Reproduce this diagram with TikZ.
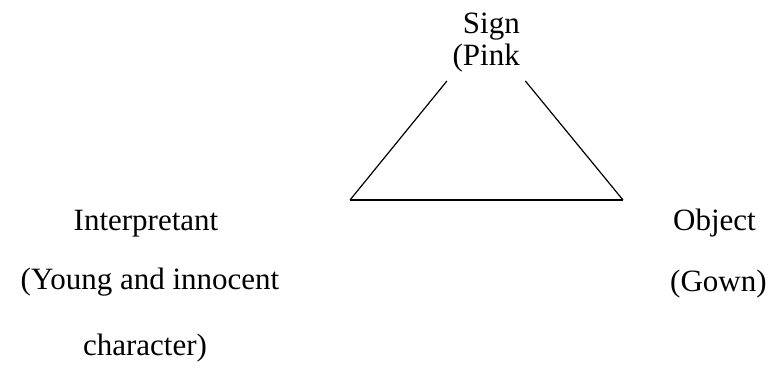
\documentclass[tikz,border=0pt]{standalone}
\usepackage{fontspec}
\setmainfont{Liberation Serif}
\usetikzlibrary{positioning}

\begin{document}
\begin{tikzpicture}[x=1pt, y=1pt, font=\fontsize{31}{32}\selectfont,
		lbl/.style={inner sep=0pt}, side/.style={line width=1.2pt, shorten <=62pt}]
			\useasboundingbox (0,0) rectangle (768,368);
			% triangle corners
			\coordinate (apex) at (486,335);
			\coordinate (left) at (350,168);
			\coordinate (right) at (623,168);
			\draw[side] (apex) -- (left);
			\draw[side] (apex) -- (right);
			\draw[line width=1.2pt] (left) -- (right);
			% labels
			\node[lbl, align=right, anchor=base east] (sign) at (520,303) {Sign\\(Pink};
			\node[lbl, anchor=base] (interp) at (146,138) {Interpretant};
			\node[lbl, anchor=base] (interpA) at (150,79) {(Young and innocent};
			\node[lbl, anchor=base] (interpB) at (145,13) {character)};
			\node[lbl, anchor=base west] (object) at (673,138) {Object};
			\node[lbl, anchor=base west] (objectA) at (670,77) {(Gown)};
		\end{tikzpicture}
\end{document}
